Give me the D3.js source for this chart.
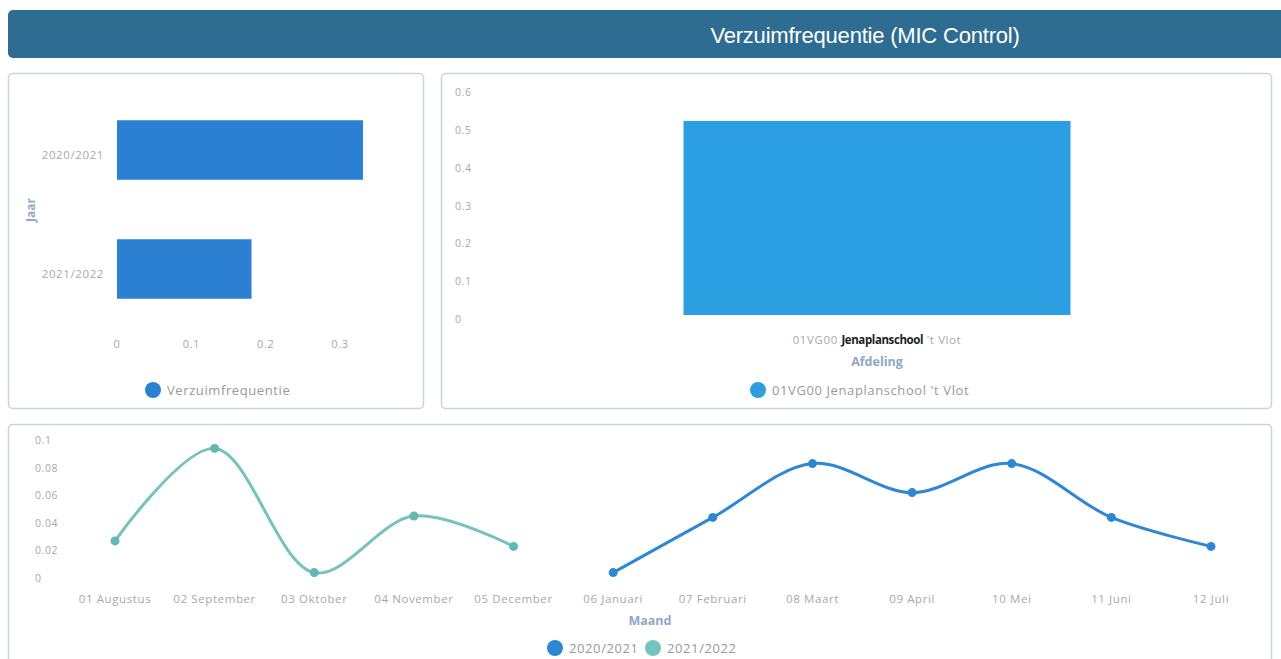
<!DOCTYPE html>
<html>
<head>
<meta charset="utf-8">
<script src="https://cdn.jsdelivr.net/npm/d3@7"></script>
<style>
  body { margin: 0; background: #fff; }
  svg { display: block; }
  text { font-family: "Open Sans", sans-serif; }
</style>
</head>
<body>
<div id="chart"></div>
<script>
// data
var jaren = ["2020/2021", "2021/2022"];
var jaarWaarden = [0.331, 0.181];
var jaarTicks = [0, 0.1, 0.2, 0.3];

var afdelingen = ["01VG00 Jenaplanschool 't Vlot"];
var afdelingWaarden = [0.513];
var afdelingTicks = [0, 0.1, 0.2, 0.3, 0.4, 0.5, 0.6];

var maanden = ["01 Augustus", "02 September", "03 Oktober", "04 November", "05 December", "06 Januari",
  "07 Februari", "08 Maart", "09 April", "10 Mei", "11 Juni", "12 Juli"];
var serie2021 = [null, null, null, null, null, 0.001, 0.041, 0.080, 0.059, 0.080, 0.041, 0.020];
var serie2122 = [0.024, 0.091, 0.001, 0.042, 0.020, null, null, null, null, null, null, null];
var maandTicks = [0, 0.02, 0.04, 0.06, 0.08, 0.1];

var W = 1281, H = 659;
var tickColor = "#a8a8a8", titleColor = "#8fa8c4";
var blauw = "#2b80d2", lichtblauw = "#2c9fe2", teal = "#74c3bd";

var svg = d3.select("#chart").append("svg")
  .attr("width", W)
  .attr("height", H);

// header
svg.append("rect")
  .attr("x", 8).attr("y", 10).attr("width", W).attr("height", 48)
  .attr("rx", 5).attr("fill", "#2e6c91");
svg.append("text")
  .attr("x", 865).attr("y", 35)
  .attr("text-anchor", "middle").attr("dominant-baseline", "central")
  .attr("fill", "#fff")
  .style("font-family", "'Liberation Sans', Arial, sans-serif")
  .style("font-size", "22px")
  .style("letter-spacing", "-0.2px")
  .text("Verzuimfrequentie (MIC Control)");

// panels
function panel(x, y, w, h) {
  svg.append("rect")
    .attr("x", x + 0.5).attr("y", y + 0.5).attr("width", w).attr("height", h)
    .attr("rx", 4).attr("fill", "#fff")
    .attr("stroke", "#c4d6df").attr("stroke-width", 1.5);
}
panel(8, 73, 415, 335);
panel(441, 73, 830, 335);
panel(8, 424, 1263, 250);

function tickStyle(sel, size) {
  sel.attr("fill", tickColor)
    .style("font-size", (size || 11) + "px")
    .style("letter-spacing", "0.6px");
}

function legend(g, items) {
  items.forEach(function (it) {
    g.append("circle").attr("cx", it.x).attr("cy", it.y).attr("r", 8).attr("fill", it.color);
    g.append("text").attr("x", it.x + 14).attr("y", it.y)
      .attr("dominant-baseline", "central")
      .attr("fill", "#999").style("font-size", "13px").style("letter-spacing", "0.6px")
      .text(it.label);
  });
}

// chart 1: Jaar
var g1 = svg.append("g");
var x1 = d3.scaleLinear().domain([0, 0.3]).range([117, 340]);
var y1 = d3.scaleBand().domain(jaren).range([90.5, 328.5]).paddingInner(0.5).paddingOuter(0.25);

g1.selectAll("rect.bar")
  .data(jaren)
  .enter().append("rect")
  .attr("class", "bar")
  .attr("x", x1(0))
  .attr("y", function (d) { return y1(d); })
  .attr("width", function (d, i) { return x1(jaarWaarden[i]) - x1(0); })
  .attr("height", y1.bandwidth())
  .attr("fill", blauw);

g1.selectAll("text.xt")
  .data(jaarTicks)
  .enter().append("text")
  .attr("class", "xt")
  .attr("x", function (d) { return x1(d); })
  .attr("y", 343)
  .attr("text-anchor", "middle").attr("dominant-baseline", "central")
  .call(tickStyle)
  .text(function (d) { return d; });

g1.selectAll("text.yt")
  .data(jaren)
  .enter().append("text")
  .attr("class", "yt")
  .attr("x", 104)
  .attr("y", function (d) { return y1(d) + y1.bandwidth() / 2 + 4; })
  .attr("text-anchor", "end").attr("dominant-baseline", "central")
  .call(tickStyle, 11.5)
  .text(function (d) { return d; });

g1.append("text")
  .attr("transform", "translate(30,210) rotate(-90)")
  .attr("text-anchor", "middle").attr("dominant-baseline", "central")
  .attr("fill", titleColor).style("font-size", "12px").style("font-weight", "bold")
  .text("Jaar");

legend(g1, [{ x: 153, y: 390, color: blauw, label: "Verzuimfrequentie" }]);

// chart 2: Afdeling
var g2 = svg.append("g");
var y2 = d3.scaleLinear().domain([0, 0.6]).range([315, 88]);
var x2 = d3.scaleBand().domain(afdelingen).range([490, 1264]).paddingInner(0.5).paddingOuter(0.25);

g2.selectAll("rect.bar")
  .data(afdelingen)
  .enter().append("rect")
  .attr("class", "bar")
  .attr("x", function (d) { return x2(d); })
  .attr("y", function (d, i) { return y2(afdelingWaarden[i]); })
  .attr("width", x2.bandwidth())
  .attr("height", function (d, i) { return y2(0) - y2(afdelingWaarden[i]); })
  .attr("fill", lichtblauw);

g2.selectAll("text.yt")
  .data(afdelingTicks)
  .enter().append("text")
  .attr("class", "yt")
  .attr("x", 455)
  .attr("y", function (d) { return y2(d) + 4; })
  .attr("text-anchor", "start").attr("dominant-baseline", "central")
  .call(tickStyle, 10.5)
  .text(function (d) { return d; });

var xl2 = g2.selectAll("text.xt")
  .data(afdelingen)
  .enter().append("text")
  .attr("class", "xt")
  .attr("x", function (d) { return x2(d) + x2.bandwidth() / 2; })
  .attr("y", 339)
  .attr("text-anchor", "middle").attr("dominant-baseline", "central")
  .call(tickStyle, 11.5);
xl2.append("tspan").text("01VG00 ");
xl2.append("tspan").attr("fill", "#222").style("font-weight", "bold").style("letter-spacing", "-0.4px").text("Jenaplanschool");
xl2.append("tspan").text(" 't Vlot");

g2.append("text")
  .attr("x", x2(afdelingen[0]) + x2.bandwidth() / 2).attr("y", 361)
  .attr("text-anchor", "middle").attr("dominant-baseline", "central")
  .attr("fill", titleColor).style("font-size", "12.5px").style("font-weight", "bold")
  .text("Afdeling");

legend(g2, [{ x: 758, y: 390, color: lichtblauw, label: afdelingen[0] }]);

// chart 3: Maand
var g3 = svg.append("g");
var x3 = d3.scalePoint().domain(maanden).range([115, 1211]);
var y3 = d3.scaleLinear().domain([0, 0.1]).range([574, 436]);

g3.selectAll("text.yt")
  .data(maandTicks)
  .enter().append("text")
  .attr("class", "yt")
  .attr("x", 35)
  .attr("y", function (d) { return y3(d) + 4; })
  .attr("text-anchor", "start").attr("dominant-baseline", "central")
  .call(tickStyle, 10.5)
  .text(function (d) { return d; });

g3.selectAll("text.xt")
  .data(maanden)
  .enter().append("text")
  .attr("class", "xt")
  .attr("x", function (d) { return x3(d); })
  .attr("y", 598)
  .attr("text-anchor", "middle").attr("dominant-baseline", "central")
  .call(tickStyle, 11.5)
  .text(function (d) { return d; });

g3.append("text")
  .attr("x", 650).attr("y", 620)
  .attr("text-anchor", "middle").attr("dominant-baseline", "central")
  .attr("fill", titleColor).style("font-size", "12.5px").style("font-weight", "bold")
  .text("Maand");

var line = d3.line()
  .defined(function (d) { return d.v != null; })
  .x(function (d) { return x3(d.m); })
  .y(function (d) { return y3(d.v); })
  .curve(d3.curveCatmullRom.alpha(0.5));

[{ vals: serie2122, color: teal, dot: "#64b8b1" }, { vals: serie2021, color: "#2e87d3", dot: "#2e87d3" }]
  .forEach(function (s) {
    var pts = maanden.map(function (m, i) { return { m: m, v: s.vals[i] }; });
    g3.append("path")
      .datum(pts)
      .attr("d", line)
      .attr("fill", "none")
      .attr("stroke", s.color)
      .attr("stroke-width", 3);
    g3.selectAll(null)
      .data(pts.filter(function (d) { return d.v != null; }))
      .enter().append("circle")
      .attr("cx", function (d) { return x3(d.m); })
      .attr("cy", function (d) { return y3(d.v); })
      .attr("r", 4.5)
      .attr("fill", s.dot);
  });

legend(g3, [
  { x: 555, y: 648, color: "#2e87d3", label: "2020/2021" },
  { x: 653, y: 648, color: teal, label: "2021/2022" }
]);
</script>
</body>
</html>
